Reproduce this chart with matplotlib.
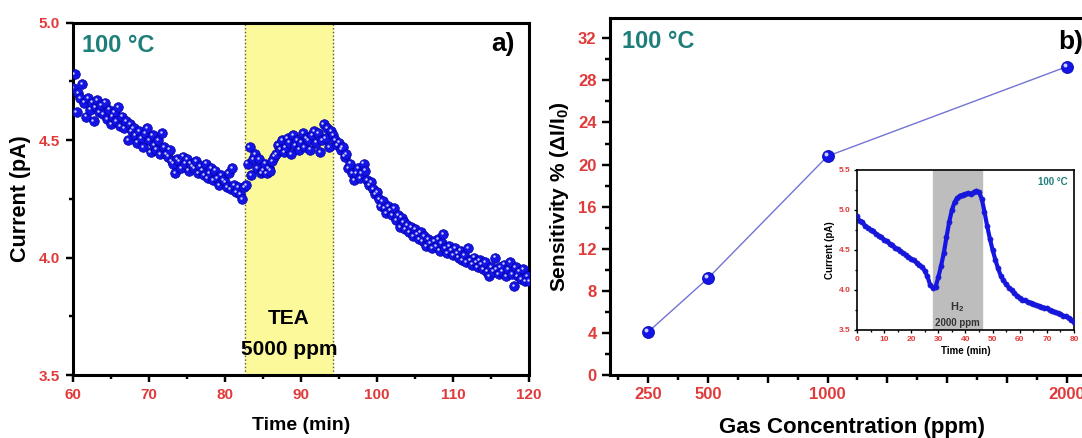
import numpy as np
import matplotlib
matplotlib.use('Agg')
import matplotlib.pyplot as plt
from matplotlib.ticker import MultipleLocator, FormatStrFormatter
from matplotlib.transforms import offset_copy

plt.rcParams['font.family'] = ['Liberation Sans', 'DejaVu Sans']
plt.rcParams['font.weight'] = 'bold'
plt.rcParams['mathtext.fontset'] = 'custom'
plt.rcParams['mathtext.rm'] = 'Liberation Sans:bold'
plt.rcParams['mathtext.it'] = 'Liberation Sans:bold'
plt.rcParams['mathtext.bf'] = 'Liberation Sans:bold'

# panel a : current vs time, TEA 5000 ppm at 100 C (sampled every 0.25 min)
t_a = np.arange(60, 120.001, 0.25)
i_a = [
    4.72, 4.78, 4.62, 4.70, 4.68, 4.74, 4.66, 4.60,
    4.68, 4.63, 4.66, 4.58, 4.64, 4.67, 4.62, 4.65,
    4.61, 4.66, 4.59, 4.63, 4.57, 4.60, 4.62, 4.58,
    4.64, 4.56, 4.60, 4.55, 4.58, 4.50, 4.57, 4.54,
    4.55, 4.52, 4.49, 4.54, 4.51, 4.47, 4.53, 4.55,
    4.50, 4.45, 4.52, 4.48, 4.46, 4.50, 4.44, 4.53,
    4.47, 4.44, 4.43, 4.46, 4.41, 4.40, 4.36, 4.42,
    4.41, 4.38, 4.43, 4.40, 4.42, 4.37, 4.40, 4.39,
    4.38, 4.41, 4.36, 4.39, 4.37, 4.35, 4.40, 4.34,
    4.36, 4.38, 4.33, 4.37, 4.34, 4.31, 4.35, 4.33,
    4.32, 4.30, 4.36, 4.29, 4.38, 4.31, 4.28, 4.30,
    4.27, 4.25, 4.30, 4.31, 4.40, 4.47, 4.35, 4.42,
    4.44, 4.38, 4.42, 4.36, 4.37, 4.40, 4.36, 4.38,
    4.37, 4.41, 4.43, 4.44, 4.48, 4.46, 4.50, 4.45,
    4.47, 4.51, 4.49, 4.44, 4.52, 4.48, 4.50, 4.46,
    4.49, 4.53, 4.47, 4.51, 4.50, 4.46, 4.52, 4.54,
    4.49, 4.53, 4.45, 4.50, 4.57, 4.51, 4.55, 4.47,
    4.54, 4.52, 4.50, 4.48, 4.49, 4.46, 4.47, 4.43,
    4.44, 4.38, 4.40, 4.36, 4.33, 4.36, 4.38, 4.34,
    4.36, 4.40, 4.37, 4.33, 4.31, 4.32, 4.29, 4.27,
    4.28, 4.25, 4.22, 4.24, 4.21, 4.19, 4.22, 4.20,
    4.18, 4.21, 4.16, 4.18, 4.13, 4.17, 4.15, 4.12,
    4.14, 4.11, 4.13, 4.09, 4.12, 4.10, 4.08, 4.11,
    4.07, 4.09, 4.05, 4.08, 4.06, 4.04, 4.07, 4.05,
    4.08, 4.03, 4.06, 4.10, 4.04, 4.02, 4.05, 4.03,
    4.01, 4.04, 4.02, 4.00, 4.03, 3.99, 4.01, 3.98,
    4.04, 3.99, 3.97, 4.00, 3.98, 3.96, 3.99, 3.97,
    3.95, 3.98, 3.94, 3.92, 3.96, 3.94, 4.00, 3.95,
    3.93, 3.96, 3.94, 3.97, 3.92, 3.95, 3.98, 3.93,
    3.88, 3.96, 3.92, 3.94, 3.91, 3.95, 3.90, 3.92, 3.90,
]
tea_on, tea_off = 82.7, 94.2

# panel b : sensitivity vs concentration
conc = [250, 500, 1000, 2000]
sens = [4.1, 9.2, 20.8, 29.3]
conc_labels = ['250', '500', '1000', '2000']

# inset : H2 2000 ppm response (1 min sampling)
t_in = np.arange(0, 81, 1)
i_in = [
    4.92, 4.86, 4.85, 4.80, 4.78, 4.75, 4.74, 4.70, 4.68, 4.66,
    4.63, 4.61, 4.58, 4.56, 4.53, 4.51, 4.49, 4.46, 4.44, 4.41,
    4.39, 4.37, 4.34, 4.31, 4.29, 4.24, 4.17, 4.06, 4.03, 4.04,
    4.16, 4.30, 4.46, 4.66, 4.85, 5.00, 5.10, 5.15, 5.18, 5.19,
    5.20, 5.21, 5.20, 5.22, 5.24, 5.22, 5.14, 4.98, 4.80, 4.64,
    4.50, 4.38, 4.27, 4.18, 4.12, 4.07, 4.03, 4.00, 3.96, 3.93,
    3.90, 3.88, 3.87, 3.85, 3.84, 3.83, 3.81, 3.80, 3.79, 3.78,
    3.77, 3.75, 3.74, 3.72, 3.71, 3.70, 3.68, 3.67, 3.65, 3.63,
    3.60,
]
h2_on, h2_off = 28, 46

red = '#e03a3a'
teal = '#1e7f7a'
blue = '#1414e6'

fig = plt.figure(figsize=(10.82, 4.38), dpi=100)

def style(ax, lw, size, major, minor, pad):
    for s in ax.spines.values():
        s.set_linewidth(lw)
    ax.tick_params(which='both', direction='out', top=False, right=False,
                   width=lw * 0.8, labelcolor=red, labelsize=size, pad=pad)
    ax.tick_params(which='major', length=major)
    ax.tick_params(which='minor', length=minor)
    for lab in ax.get_xticklabels() + ax.get_yticklabels():
        lab.set_fontweight('bold')

def balls(ax, x, y, s, hs, dx):
    # blue sphere look: filled marker plus a small shifted highlight
    ax.scatter(x, y, s=s, c=blue, edgecolors='#0000a0', linewidths=0.5, zorder=3)
    shine = offset_copy(ax.transData, fig=fig, x=-dx, y=dx, units='dots')
    ax.scatter(x, y, s=hs, c='#d0d0ff', linewidths=0, zorder=4, transform=shine)

# ---- a)
ax1 = fig.add_axes([0.0672, 0.1438, 0.4217, 0.8043])
ax1.axvspan(tea_on, tea_off, color='#fbf99a', zorder=0)
ax1.axvline(tea_on, color='#555555', ls=':', lw=1)
ax1.axvline(tea_off, color='#555555', ls=':', lw=1)
balls(ax1, t_a, i_a, 48, 3, 1.2)
ax1.set_xlim(60, 120)
ax1.set_ylim(3.5, 5.0)
ax1.xaxis.set_major_locator(MultipleLocator(10))
ax1.xaxis.set_minor_locator(MultipleLocator(5))
ax1.yaxis.set_major_locator(MultipleLocator(0.5))
ax1.yaxis.set_minor_locator(MultipleLocator(0.25))
ax1.yaxis.set_major_formatter(FormatStrFormatter('%.1f'))
style(ax1, 2.2, 11, 5, 3, 4.5)
ax1.set_xlabel('Time (min)', fontsize=14, fontweight='bold')
ax1.xaxis.set_label_coords(0.5, -0.12)
ax1.set_ylabel('Current (pA)', fontsize=15.5, fontweight='bold', labelpad=5)
ax1.text(0.02, 0.935, '100 °C', transform=ax1.transAxes, color=teal,
         fontsize=17, fontweight='bold', va='center')
ax1.text(0.969, 0.94, 'a)', transform=ax1.transAxes, color='black',
         fontsize=19, fontweight='bold', va='center', ha='right')
ax1.text((tea_on + tea_off) / 2, 3.74, 'TEA', ha='center', va='center',
         fontsize=15, fontweight='bold')
ax1.text((tea_on + tea_off) / 2, 3.61, '5000 ppm', ha='center', va='center',
         fontsize=15, fontweight='bold')

# ---- b)
ax2 = fig.add_axes([0.5642, 0.1438, 0.4437, 0.8144])
ax2.plot(conc, sens, color='#7373d6', lw=1.0, zorder=2)
balls(ax2, conc, sens, 75, 8, 1.8)
ax2.set_xlim(92, 2100)
ax2.set_ylim(0, 33.9)
ax2.xaxis.set_major_locator(MultipleLocator(250))
ax2.xaxis.set_minor_locator(MultipleLocator(125))
ax2.set_xticklabels([])
ax2.yaxis.set_major_locator(MultipleLocator(4))
ax2.yaxis.set_minor_locator(MultipleLocator(2))
style(ax2, 2.2, 12, 6, 3.5, 4)
for c, lab in zip(conc, conc_labels):
    ax2.text(c, -0.056, lab, transform=ax2.get_xaxis_transform(), ha='center',
             va='center', color=red, fontsize=12, fontweight='bold')
ax2.set_xlabel('Gas Concentration (ppm)', fontsize=16, fontweight='bold')
ax2.xaxis.set_label_coords(0.5025, -0.118)
ax2.set_ylabel('Sensitivity % ($\\Delta$I/I$_0$)', fontsize=15, fontweight='bold', labelpad=5)
ax2.text(0.023, 0.934, '100 °C', transform=ax2.transAxes, color=teal,
         fontsize=17, fontweight='bold', va='center')
fig.text(1058 / 1082, 1 - 42 / 438, 'b)', color='black', fontsize=19,
         fontweight='bold', va='center', ha='left')

# ---- inset
ax3 = fig.add_axes([0.792, 0.2466, 0.2006, 0.3653])
ax3.axvspan(h2_on, h2_off, color='#bdbdbd', zorder=0)
ax3.plot(t_in, i_in, color=blue, lw=3, zorder=2)
ax3.scatter(t_in, i_in, s=14, c=blue, edgecolors='#2020c0', linewidths=0.4, zorder=3)
ax3.set_xlim(0, 80)
ax3.set_ylim(3.5, 5.5)
ax3.xaxis.set_major_locator(MultipleLocator(10))
ax3.xaxis.set_minor_locator(MultipleLocator(5))
ax3.yaxis.set_major_locator(MultipleLocator(0.5))
ax3.yaxis.set_minor_locator(MultipleLocator(0.25))
ax3.yaxis.set_major_formatter(FormatStrFormatter('%.1f'))
style(ax3, 1.2, 6, 2.5, 1.5, 2)
ax3.set_xlabel('Time (min)', fontsize=7, fontweight='bold', labelpad=2)
ax3.set_ylabel('Current (pA)', fontsize=7, fontweight='bold', labelpad=3)
ax3.text(0.97, 0.927, '100 °C', transform=ax3.transAxes, color=teal,
         fontsize=7, fontweight='bold', ha='right', va='center')
ax3.text((h2_on + h2_off) / 2, 3.79, 'H$_2$', ha='center', va='center',
         fontsize=8, fontweight='bold', color='#333333')
ax3.text((h2_on + h2_off) / 2, 3.59, '2000 ppm', ha='center', va='center',
         fontsize=7, fontweight='bold', color='#333333')

fig.savefig('out.png', dpi=100)
